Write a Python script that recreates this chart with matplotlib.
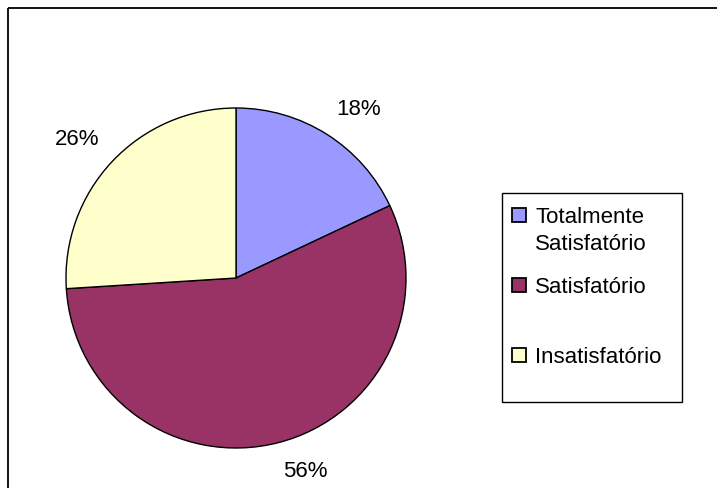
import numpy as np
import matplotlib.pyplot as plt
from matplotlib.patches import Rectangle

labels = ['Totalmente\nSatisfatório', 'Satisfatório', 'Insatisfatório']
values = [18, 56, 26]
colors = ['#9999FF', '#993366', '#FFFFCC']

plt.rcParams['font.family'] = ['Liberation Sans', 'DejaVu Sans']
FS = 16

W, H = 717, 489
fig = plt.figure(figsize=(W / 100, H / 100), dpi=100)
ax = fig.add_axes([0, 0, 1, 1])
ax.set_xlim(0, W)
ax.set_ylim(H, 0)
ax.axis('off')

# outer frame (only top and left visible)
ax.add_patch(Rectangle((7.5, 8.5), 720, 490, fill=False, edgecolor='black', lw=1.3))

# pie, drawn in a separate equal-aspect axes
cx, cy, r = 236, 279, 170
pax = fig.add_axes([(cx - r) / W, 1 - (cy + r) / H, 2 * r / W, 2 * r / H])
wedges, _ = pax.pie(values, colors=colors, startangle=90, counterclock=False,
                    wedgeprops=dict(edgecolor='black', linewidth=1.0))
pax.set_aspect('equal')
pax.set_xlim(-1, 1)
pax.set_ylim(-1, 1)

# percentage labels just outside the edge, aligned away from the pie
gap = 1 + 18 / r
total = sum(values)
for w, v in zip(wedges, values):
    ang = np.deg2rad((w.theta1 + w.theta2) / 2)
    c, s = np.cos(ang), np.sin(ang)
    pax.text(gap * c, gap * s, '%d%%' % round(100 * v / total), fontsize=FS,
             ha='left' if c > 0 else 'right', va='bottom' if s > 0 else 'top',
             clip_on=False)

# legend box
ax.add_patch(Rectangle((502, 194), 180, 209, fill=False, edgecolor='black', lw=1.0))
ybase = [223, 293, 363]
for lab, col, yb in zip(labels, colors, ybase):
    ax.add_patch(Rectangle((512, yb - 14), 14, 14, facecolor=col, edgecolor='black', lw=1.3))
    for i, line in enumerate(lab.split('\n')):
        ax.text(535, yb + i * 27.5, line, fontsize=FS, va='baseline', ha='left')

fig.savefig('out.png', dpi=100)
